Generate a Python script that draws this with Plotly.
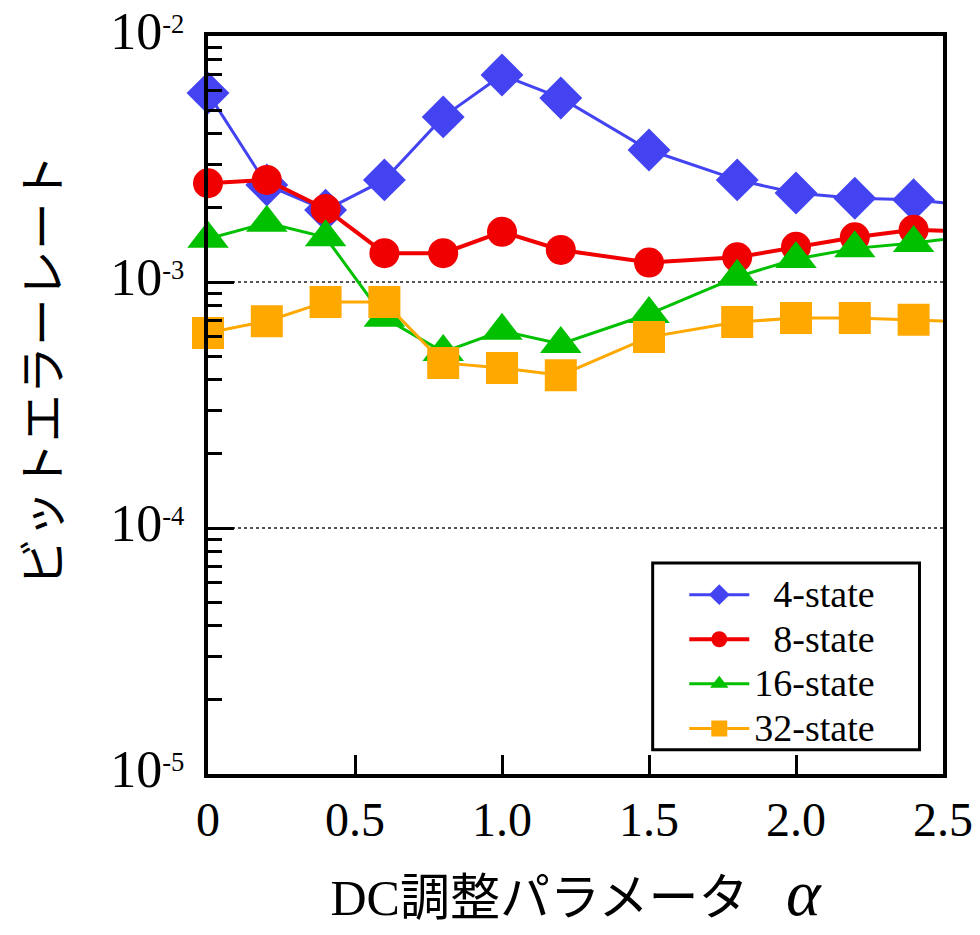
import plotly.graph_objects as go

# DC adjustment parameter alpha (the last point lies just past the axis end)
alpha = [0, 0.2, 0.4, 0.6, 0.8, 1.0, 1.2, 1.5, 1.8, 2.0, 2.2, 2.4, 2.6]

# Bit error rate per trellis size
ber_4state = [5.86e-3, 2.48e-3, 1.96e-3, 2.60e-3, 4.69e-3, 6.94e-3, 5.60e-3,
              3.44e-3, 2.60e-3, 2.30e-3, 2.19e-3, 2.16e-3, 2.04e-3]
ber_8state = [2.52e-3, 2.60e-3, 1.98e-3, 1.31e-3, 1.31e-3, 1.60e-3, 1.35e-3,
              1.20e-3, 1.26e-3, 1.39e-3, 1.52e-3, 1.63e-3, 1.60e-3]
ber_16state = [1.50e-3, 1.74e-3, 1.52e-3, 7.15e-4, 5.19e-4, 6.33e-4, 5.60e-4,
               7.41e-4, 1.05e-3, 1.24e-3, 1.37e-3, 1.44e-3, 1.54e-3]
ber_32state = [6.21e-4, 6.93e-4, 8.30e-4, 8.30e-4, 4.69e-4, 4.47e-4, 4.18e-4,
               5.97e-4, 6.87e-4, 7.14e-4, 7.14e-4, 7.02e-4, 6.87e-4]

series_names = ["4-state", "8-state", "16-state", "32-state"]

x_tickvals = [0, 0.5, 1.0, 1.5, 2.0, 2.5]
x_ticktext = ["0", "0.5", "1.0", "1.5", "2.0", "2.5"]
y_tickvals = [1e-5, 1e-4, 1e-3, 1e-2]
y_exponents = ["-5", "-4", "-3", "-2"]

SERIF = "Liberation Serif, Times New Roman, serif"
JP = "Liberation Serif, Noto Sans CJK JP, serif"


def legend_label(name):
    # right-align the shorter names and enlarge the text beyond the row pitch
    pad = "\u00a0\u00a0" if len(name) < 8 else ""
    return f"<span style='font-size:38px'>{pad}{name}</span>"


def power_label(exp):
    return f"<span style='font-size:52px'>10</span><sup>{exp}</sup>"


styles = [
    dict(color="#4343F2", symbol="diamond", size=33, lw=3),
    dict(color="#F00000", symbol="circle", size=30, lw=4),
    dict(color="#00C000", symbol="triangle-up", size=36, lw=3),
    dict(color="#FFA800", symbol="square", size=32, lw=3),
]

fig = go.Figure()
for name, ys, st in zip(series_names,
                        [ber_4state, ber_8state, ber_16state, ber_32state],
                        styles):
    fig.add_trace(go.Scatter(
        x=alpha, y=ys, name=legend_label(name), mode="lines+markers",
        line=dict(color=st["color"], width=st["lw"]),
        marker=dict(symbol=st["symbol"], size=st["size"], color=st["color"],
                    line=dict(width=0)),
        cliponaxis=False,
    ))

fig.update_layout(
    width=980, height=935,
    margin=dict(l=208, r=37, t=36, b=161, autoexpand=False),
    paper_bgcolor="white", plot_bgcolor="white",
    font=dict(family=SERIF, color="black"),
    showlegend=True,
    legend=dict(
        x=0.648, y=0.28, xanchor="left", yanchor="top",
        bgcolor="rgba(0,0,0,0)", borderwidth=0,
        font=dict(family=SERIF, size=32, color="black"),
        tracegroupgap=0, itemwidth=60,
    ),
    shapes=[dict(
        type="rect", xref="paper", yref="paper",
        x0=0.605, x1=0.968, y0=0.033, y1=0.286,
        line=dict(color="black", width=3), fillcolor="white", layer="above",
    )],
    xaxis=dict(
        range=[0, 2.5], tickmode="array", tickvals=x_tickvals, ticktext=x_ticktext,
        ticks="inside", ticklen=19, tickwidth=3, tickcolor="black",
        showline=True, linewidth=4, linecolor="black", mirror=True,
        showgrid=False, zeroline=False, automargin=False,
        tickfont=dict(family=SERIF, size=48, color="black"),
        title=dict(
            text="DC調整パラメータ\u00a0\u00a0\u00a0<span style='font-size:66px'><i>α</i></span>",
            font=dict(family=JP, size=50, color="black"), standoff=36),
    ),
    yaxis=dict(
        type="log", range=[-5, -2], tickmode="array",
        tickvals=y_tickvals, ticktext=[power_label(e) for e in y_exponents],
        ticks="inside", ticklen=26, tickwidth=3, tickcolor="black",
        minor=dict(dtick="D1", ticks="inside", ticklen=14, tickwidth=3,
                   tickcolor="black", showgrid=False),
        showline=True, linewidth=4, linecolor="black", mirror=True,
        showgrid=True, gridcolor="#555555", gridwidth=2, griddash="dot",
        zeroline=False, automargin=False,
        tickfont=dict(family=SERIF, size=38, color="black"),
        ticklabelstandoff=12,
    ),
    annotations=[dict(
        text="ビットエラーレート", textangle=-90,
        xref="paper", yref="paper", x=-0.23, y=0.547,
        xanchor="center", yanchor="middle", showarrow=False,
        font=dict(family="Noto Sans CJK JP", size=48, color="black"),
    )],
)

fig.write_html("out.html")
